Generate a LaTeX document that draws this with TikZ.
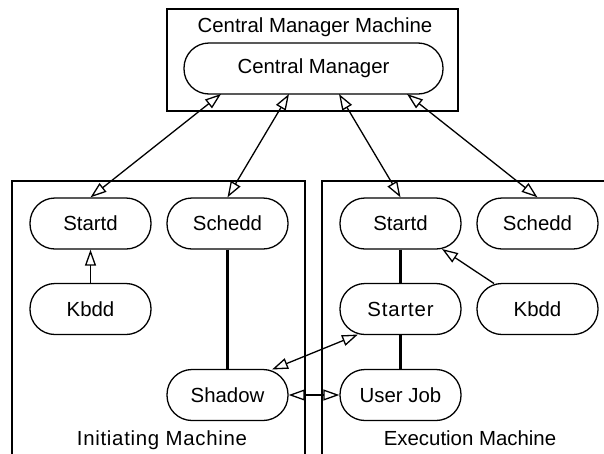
\documentclass[tikz,border=0pt]{standalone}
\usepackage{fontspec}
\setmainfont{Liberation Sans}
\usetikzlibrary{arrows.meta,calc}
\begin{document}
\begin{tikzpicture}[x=1pt,y=-1pt,
  daemon/.style={draw, line width=1.3pt, rounded corners=25pt,
    minimum width=121pt, minimum height=51pt, inner sep=0pt,
    font=\fontsize{20.4pt}{24pt}\selectfont},
  machine/.style={line width=1.5pt},
  boxlabel/.style={inner sep=0pt, anchor=base, font=\fontsize{20.4pt}{24pt}\selectfont},
  link/.style={line width=1.3pt, -{Triangle[open,length=16pt,width=11pt,line width=1.3pt]}},
  duplex/.style={line width=1.3pt, {Triangle[open,length=16pt,width=11pt,line width=1.3pt]}-{Triangle[open,length=16pt,width=11pt,line width=1.3pt]}},
  tie/.style={line width=3pt}]
\clip (0,0) rectangle (604,453);
\useasboundingbox (0,0) rectangle (604,453);
\fill[white] (0,0) rectangle (604,453);

% machine boxes
\draw[machine] (167,9) rectangle (458,111);
\draw[machine] (12,470) -- (12,181) -- (305,181) -- (305,470);
\draw[machine] (322,470) -- (322,181) -- (620,181);

\node[boxlabel] (cmlabel) at (315,32) {Central Manager Machine};
\node[boxlabel] (initlabel) at (162,445) {\addfontfeatures{LetterSpace=3.5}Initiating Machine};
\node[boxlabel] (execlabel) at (470,445) {Execution Machine};

% daemons
\node[daemon, minimum width=259pt] (cm) at (313.5,68.5) {Central Manager};
\node[daemon] (startdA) at (90.5,223.5) {Startd};
\node[daemon] (scheddA) at (227.5,223.5) {Schedd};
\node[daemon] (kbddA) at (90.5,309) {Kbdd};
\node[daemon] (shadow) at (227.5,395) {Shadow};
\node[daemon] (startdB) at (400.5,223.5) {Startd};
\node[daemon] (scheddB) at (537.5,223.5) {Schedd};
\node[daemon] (starter) at (400.5,309) {\addfontfeatures{LetterSpace=4}Starter};
\node[daemon] (kbddB) at (537.5,309) {\raisebox{-4pt}{Kbdd}};
\node[daemon] (userjob) at (400.5,395) {User Job};

% attachment points on the central manager
\coordinate (cm1) at (221,94);
\coordinate (cm2) at (289,94);
\coordinate (cm3) at (339,94);
\coordinate (cm4) at (407,94);

\draw[duplex] (startdA.north) -- (cm1);
\draw[duplex] (scheddA.north) -- (cm2);
\draw[duplex] (startdB.north) -- (cm3);
\draw[duplex] (scheddB.north) -- (cm4);

% local links
\draw[link] (kbddA.north) -- (startdA.south);
\draw[tie] (scheddA.south) -- (shadow.north);
\draw[tie] (startdB.south) -- (starter.north);
\draw[tie] (starter.south) -- (userjob.north);
\coordinate (kbddBtop) at (494,283.5);
\coordinate (startdBfoot) at (442,249);
\draw[link] (kbddBtop) -- (startdBfoot);
\coordinate (shadowtop) at (272,369.5);
\coordinate (starterfoot) at (358,334.5);
\draw[duplex] (shadowtop) -- (starterfoot);
\draw[duplex] (shadow.east) -- (userjob.west);
\end{tikzpicture}
\end{document}
